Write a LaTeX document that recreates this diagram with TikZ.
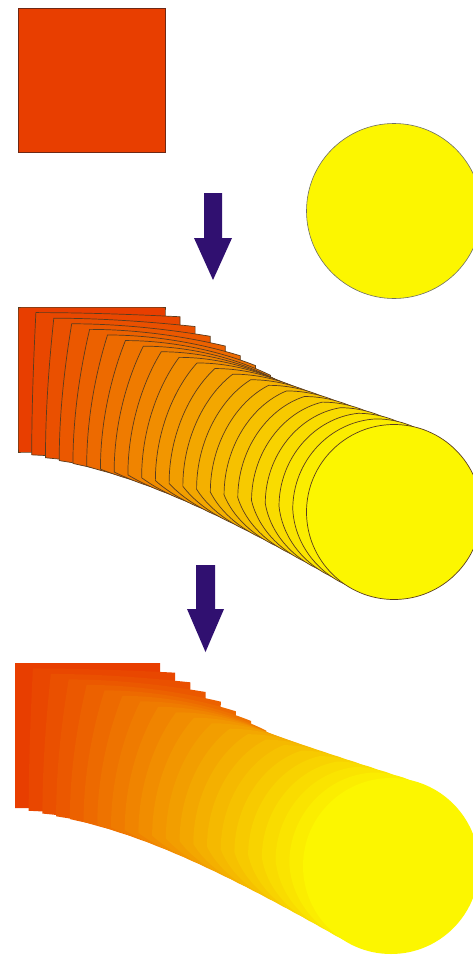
\documentclass[tikz,border=0pt]{standalone}
\usetikzlibrary{calc}
\definecolor{sqcol}{RGB}{232,62,0}
\definecolor{cicol}{RGB}{252,246,0}
\definecolor{arrcol}{RGB}{48,16,112}
\definecolor{sqline}{RGB}{110,40,20}
\definecolor{ciline}{RGB}{110,110,100}
\definecolor{blendline}{RGB}{90,60,30}
\tikzset{
  arrowshape/.style={fill=arrcol, draw=none},
  outlined/.style={draw=blendline, line width=0.7pt},
  plain/.style={draw=none}
}
% #1 L, #2 T, #3 R, #4 B, #5 cx, #6 cy, #7 r, #8 style
\newcommand\blendrow[8]{%
  \pgfmathsetmacro\wa{(#3-#1)/3}%
  \pgfmathsetmacro\ha{(#4-#2)/3}%
  \pgfmathsetmacro\kk{0.5523*#7}%
  \coordinate (a0) at (#1,#2);
  \coordinate (a1) at ({#1+\wa},#2);
  \coordinate (a2) at ({#3-\wa},#2);
  \coordinate (a3) at (#3,#2);
  \coordinate (a4) at (#3,{#2+\ha});
  \coordinate (a5) at (#3,{#4-\ha});
  \coordinate (a6) at (#3,#4);
  \coordinate (a7) at ({#3-\wa},#4);
  \coordinate (a8) at ({#1+\wa},#4);
  \coordinate (a9) at (#1,#4);
  \coordinate (a10) at (#1,{#4-\ha});
  \coordinate (a11) at (#1,{#2+\ha});
  \coordinate (b0) at (#5,{#6-#7});
  \coordinate (b1) at ({#5+\kk},{#6-#7});
  \coordinate (b2) at ({#5+#7},{#6-\kk});
  \coordinate (b3) at ({#5+#7},#6);
  \coordinate (b4) at ({#5+#7},{#6+\kk});
  \coordinate (b5) at ({#5+\kk},{#6+#7});
  \coordinate (b6) at (#5,{#6+#7});
  \coordinate (b7) at ({#5-\kk},{#6+#7});
  \coordinate (b8) at ({#5-#7},{#6+\kk});
  \coordinate (b9) at ({#5-#7},#6);
  \coordinate (b10) at ({#5-#7},{#6-\kk});
  \coordinate (b11) at ({#5-\kk},{#6-#7});
  \foreach \k in {0,...,21}{
    \pgfmathsetmacro\t{\k/21}
    \pgfmathsetmacro\p{100-100*\k/21}
    \path[fill=sqcol!\p!cicol, #8]
      ($(a0)!\t!(b0)$) .. controls ($(a1)!\t!(b1)$) and ($(a2)!\t!(b2)$) ..
      ($(a3)!\t!(b3)$) .. controls ($(a4)!\t!(b4)$) and ($(a5)!\t!(b5)$) ..
      ($(a6)!\t!(b6)$) .. controls ($(a7)!\t!(b7)$) and ($(a8)!\t!(b8)$) ..
      ($(a9)!\t!(b9)$) .. controls ($(a10)!\t!(b10)$) and ($(a11)!\t!(b11)$) ..
      ($(a0)!\t!(b0)$) -- cycle;
  }
}
\begin{document}
\begin{tikzpicture}[x=1pt,y=-1pt]
\useasboundingbox (0,0) rectangle (473,955);
\fill[white] (0,0) rectangle (473,955);
% top row
\path[fill=sqcol, draw=sqline, line width=0.6pt] (18,8) rectangle (165,152);
\path[fill=cicol, draw=ciline, line width=0.6pt] (394,211) circle (87.5);
% arrow 1
\path[arrowshape] (204,193) -- (222,193) -- (222,238) -- (232,238) -- (213,280) -- (194,238) -- (204,238) -- cycle;
% middle blend
\blendrow{18}{307}{165}{452}{394}{512}{87.5}{outlined}
% arrow 2
\path[arrowshape] (196,565) -- (215,565) -- (215,609) -- (224,609) -- (205.5,652) -- (187,609) -- (196,609) -- cycle;
% bottom blend
\blendrow{15}{663}{160}{808}{391}{866}{88}{plain}
\end{tikzpicture}
\end{document}
